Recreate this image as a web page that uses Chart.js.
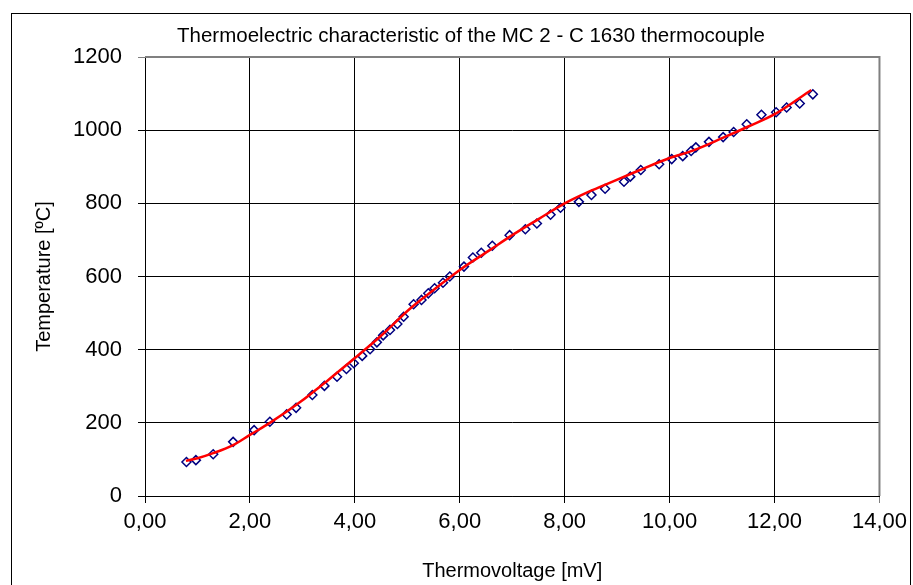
<!DOCTYPE html>
<html>
<head>
<meta charset="utf-8">
<script src="https://cdn.jsdelivr.net/npm/chart.js@4"></script>
<style>
  html, body { margin: 0; padding: 0; background: #fff; }
  #wrap { width: 913px; height: 585px; }
</style>
</head>
<body>
<div id="wrap"><canvas id="grafico" width="913" height="585"></canvas></div>
<script>
// measured points
const voltage = [0.79, 0.97, 1.30, 1.68, 2.08, 2.38, 2.70, 2.88, 3.19, 3.42, 3.66, 3.84, 3.98, 4.14,
  4.29, 4.42, 4.54, 4.67, 4.81, 4.93, 5.12, 5.27, 5.40, 5.52, 5.68, 5.81, 6.08, 6.25, 6.41, 6.62,
  6.95, 7.25, 7.47, 7.73, 7.92, 8.27, 8.51, 8.77, 9.13, 9.25, 9.45, 9.80, 10.04, 10.25, 10.41,
  10.50, 10.75, 11.02, 11.22, 11.47, 11.75, 12.03, 12.23, 12.48, 12.73];
const temperature = [93, 98, 114, 148, 180, 203, 223, 241, 276, 301, 326, 347, 363, 383,
  401, 420, 439, 454, 470, 490, 524, 536, 554, 568, 583, 600, 627, 652, 665, 684,
  713, 729, 745, 769, 788, 804, 823, 840, 859, 873, 891, 907, 921, 929, 943,
  953, 968, 981, 995, 1016, 1042, 1049, 1062, 1073, 1098];

// red trend curve
const fitVoltage = [0.78, 1.0, 1.3, 1.68, 2.0, 2.38, 2.95, 3.5, 4.0, 4.5, 5.05, 5.5, 6.0, 6.57,
  7.0, 7.5, 8.0, 8.4, 8.79, 9.4, 10.0, 10.44, 11.0, 11.5, 12.03, 12.7];
const fitTemperature = [96, 103, 117, 139, 167, 200, 256, 318, 377, 438, 512, 563, 618, 672,
  713, 757, 800, 828, 852, 889, 924, 944, 978, 1010, 1046, 1110];

const xTickLabels = ["0,00", "2,00", "4,00", "6,00", "8,00", "10,00", "12,00", "14,00"];
const yTickLabels = ["0", "200", "400", "600", "800", "1000", "1200"];

const tituloGrafico = "Thermoelectric characteristic of the MC 2 - C 1630 thermocouple";
const fonte = "'Liberation Sans', Arial, sans-serif";

// frame, plot border and title drawn by hand like the Excel chart
const molduraPlugin = {
  id: "moldura",
  beforeDatasetsDraw(chart) {
    const { ctx, chartArea } = chart;
    ctx.save();
    ctx.strokeStyle = "#808080";
    ctx.lineWidth = 2;
    ctx.beginPath();
    ctx.moveTo(chartArea.left, chartArea.top);
    ctx.lineTo(chartArea.right, chartArea.top);
    ctx.lineTo(chartArea.right, chartArea.bottom);
    ctx.stroke();
    ctx.restore();
  },
  afterDraw(chart) {
    const { ctx } = chart;
    ctx.save();
    ctx.strokeStyle = "#000";
    ctx.lineWidth = 1;
    ctx.strokeRect(11.5, 13.5, 899, 600);
    ctx.fillStyle = "#000";
    ctx.font = "20.5px " + fonte;
    ctx.textAlign = "center";
    ctx.textBaseline = "middle";
    ctx.fillText(tituloGrafico, 471, 36);
    ctx.restore();
  }
};

const ctx = document.getElementById("grafico").getContext("2d");
new Chart(ctx, {
  type: "scatter",
  data: {
    datasets: [
      {
        label: "Trend",
        data: fitVoltage.map((v, i) => ({ x: v, y: fitTemperature[i] })),
        showLine: true,
        borderColor: "#ff0000",
        borderWidth: 2.5,
        pointRadius: 0,
        cubicInterpolationMode: "monotone",
        fill: false
      },
      {
        label: "Measured",
        data: voltage.map((v, i) => ({ x: v, y: temperature[i] })),
        pointStyle: "rectRot",
        pointRadius: 4.5,
        pointBackgroundColor: "rgba(0,0,0,0)",
        pointBorderColor: "#000080",
        pointBorderWidth: 1.5,
        showLine: false
      }
    ]
  },
  options: {
    responsive: false,
    animation: false,
    layout: { padding: { top: 57, right: 33, left: 0, bottom: 0 } },
    plugins: {
      legend: { display: false },
      title: { display: false },
      tooltip: { enabled: false }
    },
    scales: {
      x: {
        type: "linear",
        min: 0,
        max: 14,
        afterFit: (scale) => { scale.height = 89; },
        afterBuildTicks: (scale) => {
          scale.ticks = xTickLabels.map((t, i) => ({ value: i * 2 }));
        },
        ticks: {
          callback: (value, index) => xTickLabels[index],
          color: "#000",
          font: { family: fonte, size: 22 },
          padding: 6,
          maxRotation: 0
        },
        grid: {
          color: (c) => (c.tick && c.tick.value === 14 ? "#808080" : "#000"),
          lineWidth: 1,
          tickLength: 7
        },
        border: { color: "#000", width: 1 },
        title: {
          display: true,
          text: "Thermovoltage [mV]",
          color: "#000",
          font: { family: fonte, size: 20 },
          padding: { top: 0, bottom: 2 }
        }
      },
      y: {
        type: "linear",
        min: 0,
        max: 1200,
        afterFit: (scale) => { scale.width = 145; },
        afterBuildTicks: (scale) => {
          scale.ticks = yTickLabels.map((t, i) => ({ value: i * 200 }));
        },
        ticks: {
          callback: (value, index) => yTickLabels[index],
          color: "#000",
          font: { family: fonte, size: 22 },
          padding: 16
        },
        grid: {
          color: (c) => (c.tick && c.tick.value === 1200 ? "#808080" : "#000"),
          lineWidth: 1,
          tickLength: 7
        },
        border: { color: "#000", width: 1 },
        title: {
          display: true,
          text: "Temperature [ºC]",
          color: "#000",
          font: { family: fonte, size: 20 },
          padding: { top: 32, bottom: 0 }
        }
      }
    }
  },
  plugins: [molduraPlugin]
});
</script>
</body>
</html>
